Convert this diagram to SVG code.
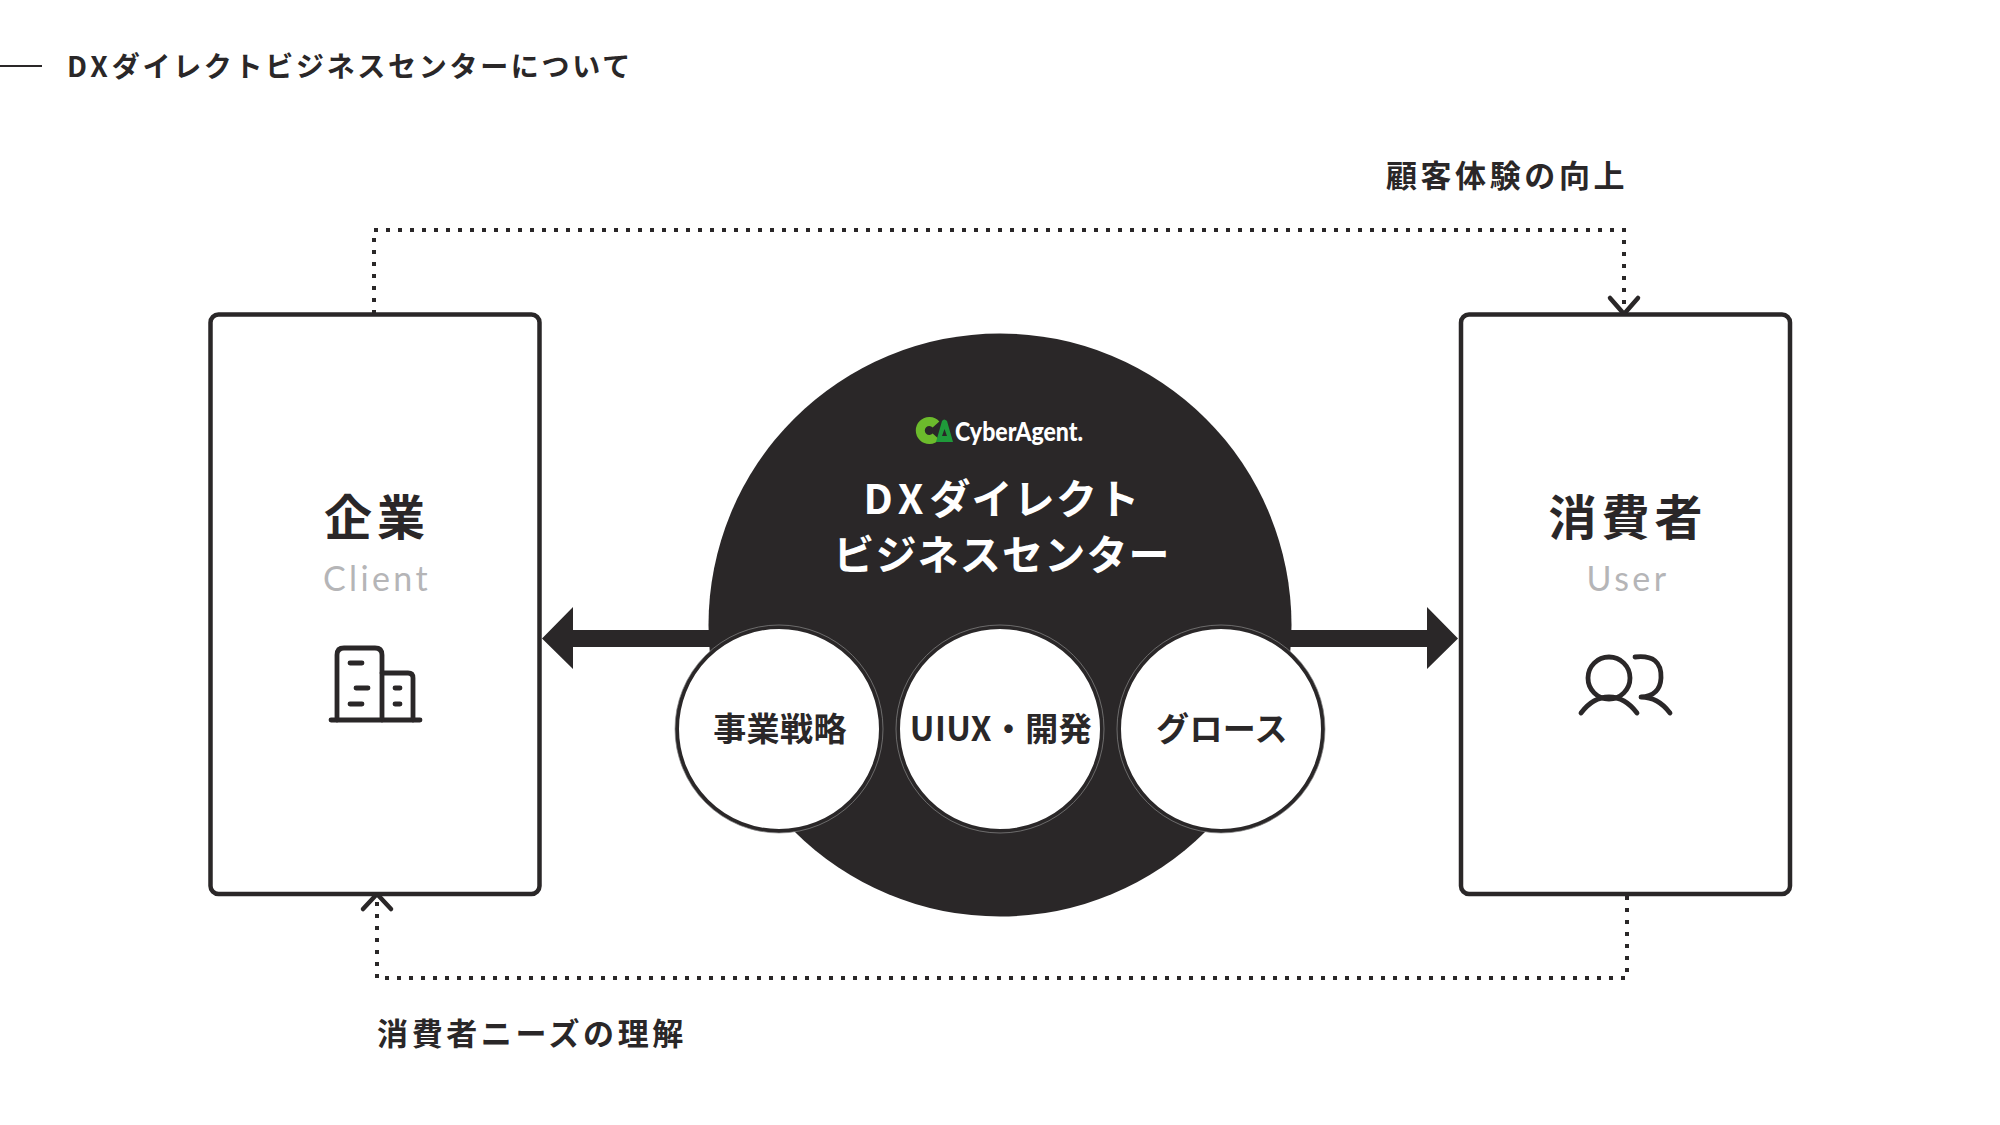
<svg xmlns="http://www.w3.org/2000/svg" width="2000" height="1125" viewBox="0 0 2000 1125">
<style>
text{font-family:"Noto Sans CJK JP","Noto Sans",sans-serif;font-weight:700;fill:#2a2728;text-anchor:middle}
.box{fill:#fff;stroke:#2a2728;stroke-width:4.500}
.sm{fill:#fff;stroke:#2a2728;stroke-width:4}
.hair{fill:none;stroke:#8a8a8a;stroke-width:.7}
.dot{fill:none;stroke:#2a2728;stroke-width:4;stroke-dasharray:4 8}
.chev{fill:none;stroke:#2a2728;stroke-width:4.500;stroke-linecap:round;stroke-linejoin:round}
.ico{fill:none;stroke:#2a2728;stroke-width:4.800;stroke-linecap:round;stroke-linejoin:round}
.en{font-family:"Lato","Noto Sans",sans-serif;font-weight:400;fill:#b5b5b7;font-size:34px;letter-spacing:3.400px}
.t{letter-spacing:1.200px}
.lab{font-size:31px;letter-spacing:3.600px}
.pill{font-size:33px;letter-spacing:.4px}
</style>
<g id="header">
<line x1="0" y1="66" x2="42" y2="66" stroke="#2a2728" stroke-width="2"/>
<text x="67" y="77" font-size="28" letter-spacing="2.700" style="text-anchor:start"><tspan letter-spacing="4">DX</tspan>ダイレクトビジネスセンターについて</text>
</g>
<g id="center">
<circle cx="1000" cy="625" r="291.500" fill="#2a2728"/>
<g id="logo">
<path d="M936 424.500 A9 9 0 1 0 936 436.500" fill="none" stroke="#6cbb2c" stroke-width="9"/>
<path fill-rule="evenodd" d="M936 442 L942 421 Q944 418 947 421 L953 442 Z M944.500 429 L942 436 H947 Z" fill="#1f9a3a"/>
<text x="1019" y="441" font-size="26" textLength="128" lengthAdjust="spacingAndGlyphs" style="font-family:'Lato',sans-serif;font-weight:900;fill:#fff">CyberAgent.</text>
</g>
<text x="1002" y="514" font-size="41" class="t" style="fill:#fff"><tspan letter-spacing="6">DX</tspan>ダイレクト</text>
<text x="1002" y="570" font-size="41" class="t" style="fill:#fff">ビジネスセンター</text>
</g>
<g id="connectors">
<path d="M710 630H573V607L542 638.500L573 669V647H710Z" fill="#2a2728"/>
<path d="M1290 630H1427V607L1458 638.500L1427 669V647H1290Z" fill="#2a2728"/>
<path class="dot" d="M374 314V230H1624V310"/>
<path class="chev" d="M1610 298L1624 314L1638 298"/>
<path class="dot" d="M1627 896V978H377V898"/>
<path class="chev" d="M363 909L377 894L391 909"/>
</g>
<g id="client">
<rect class="box" x="210.500" y="314.500" width="329" height="579.500" rx="8"/>
<text x="377" y="535" font-size="48" letter-spacing="5">企業</text>
<text x="377" y="591" class="en">Client</text>
<g>
<path class="ico" d="M331 720H420"/>
<path class="ico" d="M337 720V655Q337 648 344 648H375Q382 648 382 655V720"/>
<path class="ico" d="M382 673H408Q413 673 413 678V720"/>
<path class="ico" d="M350 663H362M356 688H368M350 704H362M395 688H400M395 704H400"/>
</g>
</g>
<g id="user">
<rect class="box" x="1461" y="314.500" width="329" height="579.500" rx="8"/>
<text x="1628" y="535" font-size="48" letter-spacing="5">消費者</text>
<text x="1628" y="591" class="en">User</text>
<g>
<circle class="ico" cx="1609" cy="678" r="21"/>
<path class="ico" d="M1581 713Q1593 697 1609 697Q1625 697 1637 713"/>
<path class="ico" d="M1635 657Q1662 654 1661 678Q1660 696 1641 697Q1658 697 1670 713"/>
</g>
</g>
<g id="s1"><circle class="sm" cx="779" cy="729" r="102"/><circle class="hair" cx="779" cy="729" r="104"/><text x="780" y="741" class="pill">事業戦略</text></g>
<g id="s2"><circle class="sm" cx="1000" cy="729" r="102"/><circle class="hair" cx="1000" cy="729" r="104"/><text x="1001" y="741" class="pill">UIUX・開発</text></g>
<g id="s3"><circle class="sm" cx="1221" cy="729" r="102"/><circle class="hair" cx="1221" cy="729" r="104"/><text x="1222" y="741" class="pill">グロース</text></g>
<text class="lab" x="1507" y="187">顧客体験の向上</text>
<text class="lab" x="532" y="1045">消費者ニーズの理解</text>
</svg>
